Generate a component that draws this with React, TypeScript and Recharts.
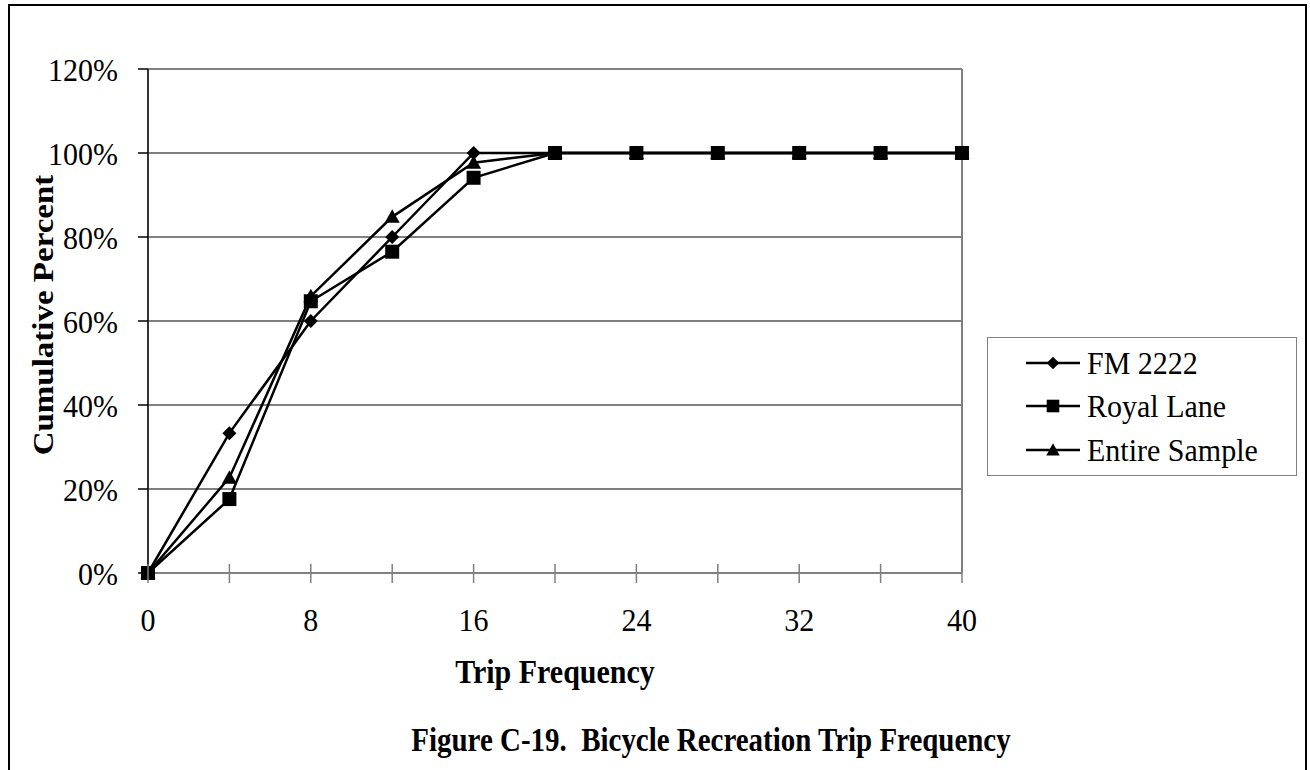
import React from 'react';
import { LineChart, Line, XAxis, YAxis, ReferenceLine, Legend } from 'recharts';

const frequencies = [0, 4, 8, 12, 16, 20, 24, 28, 32, 36, 40];
const fm2222 = [0, 33.3, 60, 80, 100, 100, 100, 100, 100, 100, 100];
const royalLane = [0, 17.6, 64.7, 76.5, 94.1, 100, 100, 100, 100, 100, 100];
const entireSample = [0, 22.7, 65.9, 84.8, 97.7, 100, 100, 100, 100, 100, 100];

const xTicks = [0, 4, 8, 12, 16, 20, 24, 28, 32, 36, 40];
const xLabeledTicks = [0, 8, 16, 24, 32, 40];
const yTicks = [0, 20, 40, 60, 80, 100, 120];
const gridValues = [20, 40, 60, 80, 100];

const seriesDefs = [
  { key: 'fm', name: 'FM 2222', shape: 'diamond' },
  { key: 'royal', name: 'Royal Lane', shape: 'square' },
  { key: 'entire', name: 'Entire Sample', shape: 'triangle' },
];

const data = frequencies.map((f, i) => ({
  x: f,
  fm: fm2222[i],
  royal: royalLane[i],
  entire: entireSample[i],
}));

const FONT = '"Liberation Serif", "Times New Roman", serif';

function markerPath(shape: string, cx: number, cy: number, k = 1) {
  if (shape === 'diamond') {
    const r = 7 * k;
    return `M${cx},${cy - r}L${cx + r},${cy}L${cx},${cy + r}L${cx - r},${cy}Z`;
  }
  if (shape === 'square') {
    const h = 7 * k;
    return `M${cx - h},${cy - h}L${cx + h},${cy - h}L${cx + h},${cy + h}L${cx - h},${cy + h}Z`;
  }
  return `M${cx},${cy - 7.5 * k}L${cx + 7.5 * k},${cy + 6 * k}L${cx - 7.5 * k},${cy + 6 * k}Z`;
}

const makeDot = (shape: string) => (p: any) => {
  if (p.cx == null || p.cy == null) return <g key={`${shape}-${p.index}`} />;
  return <path key={`${shape}-${p.index}`} d={markerPath(shape, p.cx, p.cy)} fill="#000" stroke="none" />;
};

const XTick = (props: any) => {
  const { x, y, payload } = props;
  const v = payload.value;
  return (
    <g>
      <line x1={x} x2={x} y1={y - 9} y2={y + 10} stroke="#808080" strokeWidth={1.5} />
      {xLabeledTicks.includes(v) && (
        <text
          transform={`translate(${x}, ${y + 58}) scale(1, 1.08)`}
          x={0}
          y={0}
          textAnchor="middle"
          fontSize={30}
          fontFamily={FONT}
          fill="#000"
        >
          {String(v)}
        </text>
      )}
    </g>
  );
};

const XLabel = (props: any) => {
  const vb = props.viewBox || {};
  const cx = vb.x + vb.width / 2;
  return (
    <g>
      <text
        transform={`translate(${cx}, ${vb.y + 110}) scale(1, 1.1)`}
        x={0}
        y={0}
        textAnchor="middle"
        fontSize={30}
        fontWeight="bold"
        fontFamily={FONT}
        fill="#000"
      >
        Trip Frequency
      </text>
      <text
        transform={`translate(711, ${vb.y + 178}) scale(0.965, 1.1)`}
        x={0}
        y={0}
        textAnchor="middle"
        fontSize={30}
        fontWeight="bold"
        fontFamily={FONT}
        fill="#000"
        style={{ whiteSpace: 'pre' }}
        xmlSpace="preserve"
      >
        {'Figure C-19.  Bicycle Recreation Trip Frequency'}
      </text>
    </g>
  );
};

const YLabel = (props: any) => {
  const vb = props.viewBox || {};
  const cy = vb.y + vb.height / 2 - 6;
  return (
    <text
      transform={`translate(42, ${cy}) rotate(-90) scale(1.1, 1)`}
      x={0}
      y={0}
      dy="0.35em"
      textAnchor="middle"
      fontSize={30}
      fontWeight="bold"
      fontFamily={FONT}
      fill="#000"
    >
      Cumulative Percent
    </text>
  );
};

const rowCenters = [25, 68, 112];

const LegendContent = () => (
  <div
    style={{
      position: 'relative',
      width: 310,
      height: 139,
      boxSizing: 'border-box',
      border: '1.5px solid #808080',
      background: '#fff',
      fontFamily: FONT,
    }}
  >
    {seriesDefs.map((s, i) => (
      <div key={s.key} style={{ position: 'absolute', left: 0, top: rowCenters[i] - 20, height: 40, width: 310 }}>
        <svg width={60} height={40} style={{ position: 'absolute', left: 36, top: 0 }}>
          <line x1={2} x2={56} y1={20} y2={20} stroke="#000" strokeWidth={2.5} />
          <path d={markerPath(s.shape, 29, 20, 0.9)} fill="#000" />
        </svg>
        <span
          style={{
            position: 'absolute',
            left: 99,
            top: 0,
            lineHeight: '40px',
            fontSize: 30,
            color: '#000',
            whiteSpace: 'nowrap',
            display: 'inline-block',
            transform: 'scale(1, 1.08)',
          }}
        >
          {s.name}
        </span>
      </div>
    ))}
  </div>
);

const YTick = (props: any) => {
  const { x, y, payload } = props;
  return (
    <text
      transform={`translate(${x}, ${y}) scale(1, 1.08)`}
      x={0}
      y={0}
      dy="0.36em"
      textAnchor="end"
      fontSize={30}
      fontFamily={FONT}
      fill="#000"
    >
      {`${payload.value}%`}
    </text>
  );
};

export default function App() {
  return (
    <div style={{ position: 'absolute', left: 0, top: 0, width: 1310, height: 770, background: '#fff' }}>
      <div
        style={{
          position: 'absolute',
          left: 8,
          top: 4,
          width: 1299,
          height: 766,
          boxSizing: 'border-box',
          borderTop: '2px solid #000',
          borderLeft: '2px solid #000',
          borderRight: '2px solid #000',
          pointerEvents: 'none',
        }}
      />
      <LineChart
        width={1310}
        height={770}
        data={data}
        margin={{ top: 69, right: 348, bottom: 0, left: 0 }}
      >
        {gridValues.map((g) => (
          <ReferenceLine key={`g${g}`} y={g} stroke="#000" strokeWidth={1} />
        ))}
        <ReferenceLine y={120} stroke="#808080" strokeWidth={2} />
        <ReferenceLine x={40} stroke="#808080" strokeWidth={2} />
        <XAxis
          type="number"
          dataKey="x"
          domain={[0, 40]}
          ticks={xTicks}
          interval={0}
          height={197}
          tickLine={false}
          tickSize={0}
          tickMargin={0}
          axisLine={{ stroke: '#808080', strokeWidth: 2 }}
          tick={<XTick />}
          label={<XLabel />}
        />
        <YAxis
          type="number"
          domain={[0, 120]}
          ticks={yTicks}
          interval={0}
          width={148}
          tickSize={10}
          tickMargin={20}
          tick={<YTick />}
          tickLine={{ stroke: '#000', strokeWidth: 1.5 }}
          axisLine={{ stroke: '#333', strokeWidth: 2 }}
          label={<YLabel />}
        />
        <Legend
          layout="vertical"
          align="center"
          verticalAlign="middle"
          content={<LegendContent />}
          wrapperStyle={{ left: 987, top: 337, width: 310, height: 139 }}
        />
        {seriesDefs.map((s) => (
          <Line
            key={s.key}
            type="linear"
            dataKey={s.key}
            name={s.name}
            stroke="#000"
            strokeWidth={2.5}
            dot={makeDot(s.shape)}
            activeDot={false}
            isAnimationActive={false}
          />
        ))}
      </LineChart>
    </div>
  );
}
